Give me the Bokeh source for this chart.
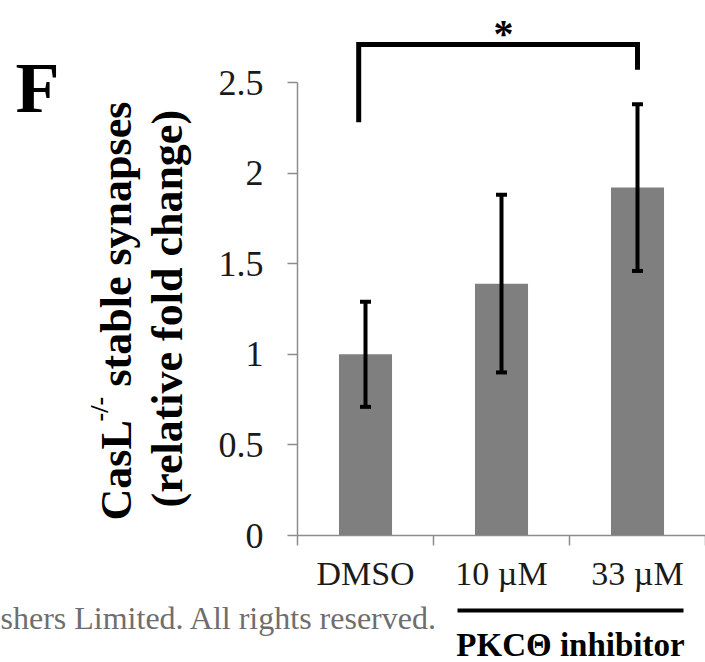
import numpy as np
from bokeh.plotting import figure
from bokeh.models import (Range1d, FixedTicker, Whisker, TeeHead, ColumnDataSource,
                          Label, Arrow, LinearAxis)
from bokeh.core.properties import value
from bokeh.embed import file_html
from bokeh.resources import INLINE

# ---------------- data ----------------
categories = ["DMSO", "10 \u00b5M", "33 \u00b5M"]
means = [1.00, 1.39, 1.92]
errors = [0.29, 0.49, 0.46]
y_ticks = [0, 0.5, 1, 1.5, 2, 2.5]
y_tick_labels = ["0", "0.5", "1", "1.5", "2", "2.5"]
# significance bracket DMSO vs 33 uM
bracket_top = 2.71
bracket_left_bottom = 2.28
bracket_right_bottom = 2.57
sig_text = "*"
group_label = "PKC\u0398 inhibitor"

SERIF = "Liberation Serif"

# ---------------- layout geometry (pixels) ----------------
W, H = 705, 662
AX_X, AX_Y = 297, 535          # pixel position of the axes origin
PX_CAT = (W - AX_X) / len(categories)
PX_UNIT = 181.2

x = np.arange(len(categories)) + 0.5
means_a = np.array(means)
err_a = np.array(errors)
src = ColumnDataSource(dict(x=x, top=means_a, upper=means_a + err_a, lower=means_a - err_a))

p = figure(width=W, height=H, output_backend="svg", toolbar_location=None,
           x_range=Range1d(-AX_X / PX_CAT, len(categories)),
           y_range=Range1d(-(H - AX_Y) / PX_UNIT, AX_Y / PX_UNIT),
           x_axis_location=None, y_axis_location=None,
           min_border=0, min_border_left=0, min_border_right=0,
           min_border_top=0, min_border_bottom=0)
p.outline_line_color = None
p.xgrid.visible = False
p.ygrid.visible = False
p.background_fill_color = "white"
p.border_fill_color = "white"

# pixel helper ranges for free-standing texts
p.extra_x_ranges = {"px": Range1d(0, W)}
p.extra_y_ranges = {"py": Range1d(H, 0)}

# y axis
ya = LinearAxis(fixed_location=0)
ya.ticker = FixedTicker(ticks=y_ticks)
ya.major_label_overrides = {t: l for t, l in zip(y_ticks, y_tick_labels)}
ya.bounds = (0, 2.5)
ya.major_tick_out = 10
ya.major_tick_in = 0
ya.minor_tick_out = 0
ya.minor_tick_in = 0
ya.axis_line_color = "#8c8c8c"
ya.axis_line_width = 1.5
ya.major_tick_line_color = "#8c8c8c"
ya.major_tick_line_width = 1.5
ya.major_label_text_font = SERIF
ya.major_label_text_font_size = "36px"
ya.major_label_text_color = "#1a1a1a"
ya.major_label_standoff = 24
p.add_layout(ya, "left")

# x axis: labels at centres, ticks at boundaries
xa = LinearAxis(fixed_location=0)
xa.ticker = FixedTicker(ticks=list(x), minor_ticks=list(range(len(categories) + 1)))
xa.major_label_overrides = {float(v): c for v, c in zip(x, categories)}
xa.bounds = (0, len(categories))
xa.major_tick_out = 0
xa.major_tick_in = 0
xa.minor_tick_out = 10
xa.minor_tick_in = 0
xa.minor_tick_line_color = "#8c8c8c"
xa.minor_tick_line_width = 1.5
xa.axis_line_color = "#8c8c8c"
xa.axis_line_width = 1.5
xa.major_label_text_font = SERIF
xa.major_label_text_font_size = "34px"
xa.major_label_text_color = "#1a1a1a"
xa.major_label_standoff = 9
p.add_layout(xa, "below")

# bars
p.vbar(x="x", top="top", bottom=0, width=0.39, source=src,
       fill_color="#7f7f7f", line_color=None)

# error bars
p.add_layout(Whisker(base="x", upper="upper", lower="lower", source=src, level="overlay",
                     line_width=4, line_color="black",
                     upper_head=TeeHead(size=11, line_width=4, line_color="black"),
                     lower_head=TeeHead(size=11, line_width=4, line_color="black")))

# significance bracket
xl = x[0] - 0.05
xr = x[2]
p.line([xl, xl, xr, xr], [bracket_left_bottom, bracket_top, bracket_top, bracket_right_bottom],
       line_width=5, line_color="black", line_join="miter")
p.text(x=[(xl + xr) / 2 + 0.04], y=[bracket_top + 0.06], text=[sig_text],
       text_font=value(SERIF), text_font_style="bold", text_font_size="40px",
       text_align="center", text_baseline="middle", text_color="black")

def lab(text, x0, y0, size, bold=False, color="black", align="left", angle=0):
    p.add_layout(Label(x=x0, y=y0, x_range_name="px", y_range_name="py", text=text,
                       text_font=SERIF, text_font_size=size,
                       text_font_style="bold" if bold else "normal",
                       text_color=color, text_align=align, text_baseline="alphabetic",
                       angle=angle, angle_units="deg"))

# panel letter
lab("F", 15, 87, "72px", bold=True)

# y axis title (two lines, rotated)
lab("CasL", 116, 520, "44px", bold=True, angle=90)
lab("-/-", 99, 421, "26px", bold=True, angle=90)
lab("stable synapses", 116, 386, "44px", bold=True, angle=90)
lab("(relative fold change)", 167, 507, "44px", bold=True, angle=90)

# watermark fragment
lab("shers Limited. All rights reserved.", 0, 617, "32px", color="#6e6e6e", align="left")

# group underline and label
p.add_layout(Arrow(x_start=457, y_start=610, x_end=683, y_end=610, start=None, end=None,
                   line_width=4, line_color="black", x_range_name="px", y_range_name="py"))
lab(group_label, 570, 644, "33px", bold=True, align="center")

open("out.html", "w").write(file_html(p, INLINE))
